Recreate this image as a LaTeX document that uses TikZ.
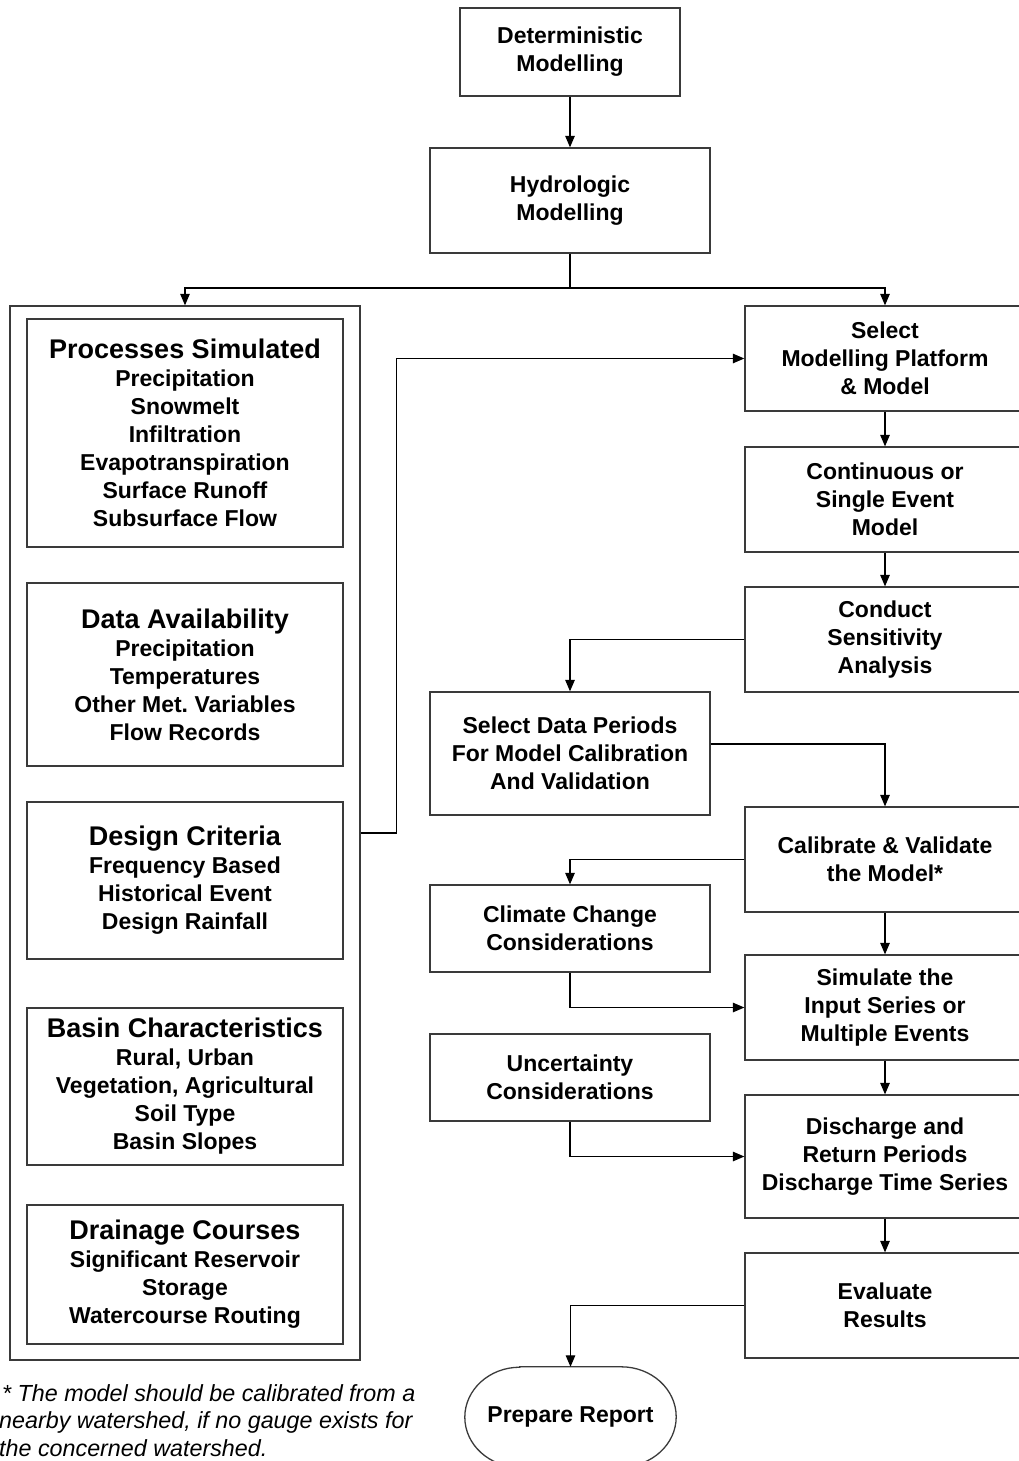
\documentclass[tikz,border=0pt]{standalone}
\usepackage{fontspec}
\setmainfont{Liberation Sans}
\usetikzlibrary{arrows.meta,calc}
\definecolor{boxgray}{HTML}{3A3A3A}
\newcommand\flowfont{\fontsize{23}{28}\selectfont\bfseries}
\newcommand\headfont{\fontsize{27}{30}\selectfont\bfseries}
\newcommand\notefont{\fontsize{23.3}{27.5}\selectfont\itshape}
\frenchspacing
\begin{document}
\begin{tikzpicture}[x=1pt,y=-1pt,
  box/.style={draw=boxgray, line width=1.3pt, rectangle, align=center,
    inner sep=0pt, font=\flowfont, text=black},
  midbox/.style={box, minimum width=280},
  rightbox/.style={box, minimum width=280},
  leftbox/.style={box, minimum width=316},
  conn/.style={draw=black, line width=1.2pt},
  arr/.style={conn, -{Triangle[length=11.5pt,width=9.5pt]}}
]
\useasboundingbox (0,0) rectangle (1018,1461);

% top of the chart
\node[box, minimum width=220, minimum height=88] (det) at (570,52) {Deterministic\\Modelling};
\node[midbox, minimum height=105] (hyd) at (570,200.5) {Hydrologic\\Modelling};
\coordinate (split) at (570,288);

% left column: modelling considerations
\node[box, minimum width=350, minimum height=1054] (outer) at (185,833) {};
\node[leftbox, minimum height=228] (proc) at (185,433)
  {{\headfont Processes Simulated}\\Precipitation\\Snowmelt\\Infiltration\\Evapotranspiration\\Surface Runoff\\Subsurface Flow};
\node[leftbox, minimum height=183] (data) at (185,674.5)
  {{\headfont Data Availability}\\Precipitation\\Temperatures\\Other Met. Variables\\Flow Records};
\node[leftbox, minimum height=157] (design) at (185,880.5)
  {{\headfont Design Criteria}\\Frequency Based\\Historical Event\\Design Rainfall};
\node[leftbox, minimum height=157] (basin) at (185,1086.5)
  {{\headfont Basin Characteristics}\\Rural, Urban\\Vegetation, Agricultural\\Soil Type\\Basin Slopes};
\node[leftbox, minimum height=139] (drain) at (185,1274.5)
  {{\headfont Drainage Courses}\\Significant Reservoir\\Storage\\Watercourse Routing};

% right column: main modelling steps
\node[rightbox, minimum height=105] (sel) at (885,358.5) {Select\\Modelling Platform\\\& Model};
\node[rightbox, minimum height=105] (cont) at (885,499.5) {Continuous or\\Single Event\\Model};
\node[rightbox, minimum height=105] (cond) at (885,639.5) {Conduct\\Sensitivity\\Analysis};
\node[rightbox, minimum height=105] (cal) at (885,859.5) {Calibrate \& Validate\\the Model*};
\node[rightbox, minimum height=105] (sim) at (885,1007.5) {Simulate the\\Input Series or\\Multiple Events};
\node[rightbox, minimum height=123] (dis) at (885,1156.5) {Discharge and\\Return Periods\\Discharge Time Series};
\node[rightbox, minimum height=105] (eva) at (885,1305.5) {Evaluate\\Results};

% middle column: side inputs
\node[midbox, minimum height=123] (sdp) at (570,753.5) {Select Data Periods\\For Model Calibration\\And Validation};
\node[midbox, minimum height=87] (clim) at (570,928.5) {Climate Change\\Considerations};
\node[midbox, minimum height=87] (unc) at (570,1077.5) {Uncertainty\\Considerations};

% terminator with elliptical ends
\node[inner sep=0pt, minimum width=211, minimum height=100, font=\flowfont] (rep) at (570.5,1417) {Prepare Report};
\draw[draw=boxgray, line width=1.3pt]
  ([xshift=55pt]rep.north west) -- ([xshift=-55pt]rep.north east)
  arc[start angle=-90, end angle=90, x radius=55, y radius=50]
  -- ([xshift=55pt]rep.south west)
  arc[start angle=90, end angle=270, x radius=55, y radius=50] -- cycle;

% footnote
\node[anchor=north west, align=left, inner sep=0pt, font=\notefont] (note) at (-1,1384)
  {\hskip 3pt* The model should be calibrated from a\\
   nearby watershed, if no gauge exists for\\
   the concerned watershed.};

% connectors
\draw[arr] (det) -- (hyd);
\draw[conn] (hyd) -- (split);
\draw[arr] (split) -| (outer.north);
\draw[arr] (split) -| (sel.north);
\draw[arr] (outer.east) -- ++(36,0) |- (sel.west);
\draw[arr] (sel) -- (cont);
\draw[arr] (cont) -- (cond);
\draw[arr] (cond.west) -| (sdp.north);
\draw[arr] ([yshift=9.5pt]sdp.east) -| (cal.north);
\draw[arr] (cal.west) -| (clim.north);
\draw[arr] (cal) -- (sim);
\draw[arr] (clim.south) |- (sim.west);
\draw[arr] (sim) -- (dis);
\draw[arr] (unc.south) |- (dis.west);
\draw[arr] (dis) -- (eva);
\draw[arr] (eva.west) -| (rep.north);
\end{tikzpicture}
\end{document}
